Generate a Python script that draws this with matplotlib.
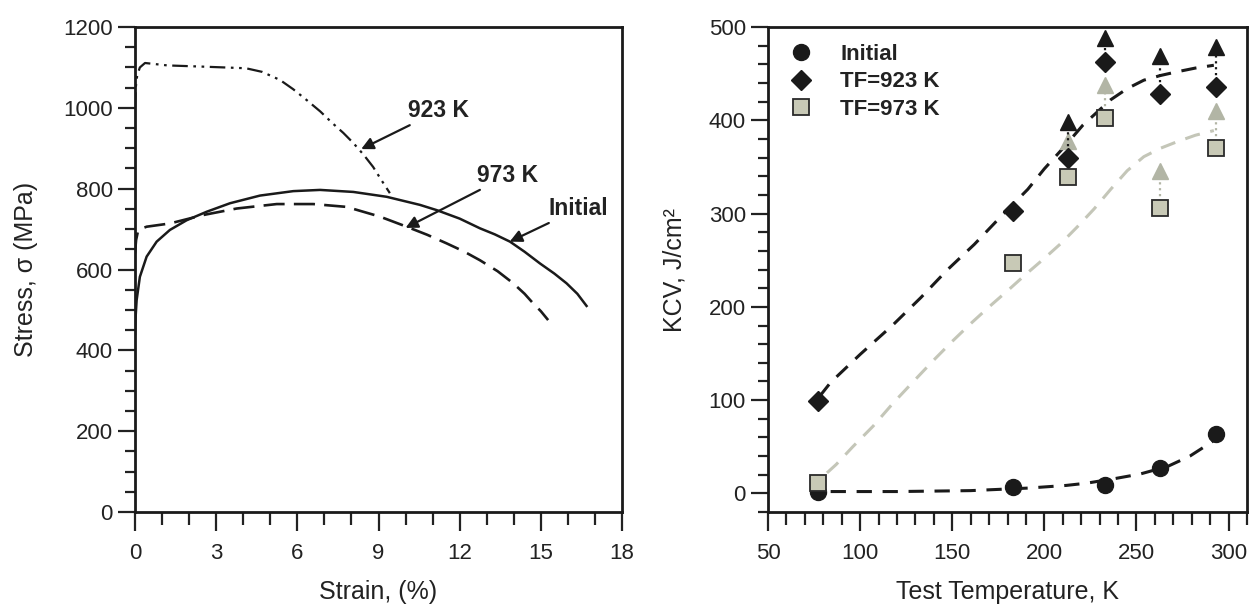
import matplotlib
matplotlib.use('Agg')
from matplotlib import pyplot as plt
from matplotlib.ticker import MultipleLocator

plt.rcParams['font.family'] = ['Liberation Sans', 'DejaVu Sans']
plt.rcParams['text.color'] = '#222222'
plt.rcParams['axes.labelcolor'] = '#222222'
plt.rcParams['xtick.color'] = '#222222'
plt.rcParams['ytick.color'] = '#222222'

# ---- left panel: stress-strain curves ----
strain_initial = [0.0, 0.02, 0.06, 0.18, 0.43, 0.80, 1.29, 1.91, 2.65, 3.51, 4.62, 5.85, 6.84,
                  8.07, 9.3, 10.53, 11.15, 12.0, 12.75, 13.3, 13.86, 14.4, 14.97, 15.5, 15.95, 16.35, 16.69]
stress_initial = [440, 480, 524, 582, 632, 669, 698, 722, 743, 764, 783, 794, 797,
                  792, 780, 760, 747, 726, 702, 687, 669, 644, 615, 590, 566, 540, 510]

strain_973 = [0.0, 0.04, 0.12, 0.43, 1.29, 2.53, 3.76, 5.24, 6.59, 7.82, 9.05, 10.04,
              10.8, 11.51, 12.15, 12.75, 13.4, 13.98, 14.4, 14.72, 15.0, 15.27]
stress_973 = [640, 673, 698, 706, 714, 735, 751, 762, 762, 755, 731, 706,
              686, 665, 645, 623, 596, 566, 540, 516, 497, 475]

strain_923 = [0.0, 0.03, 0.08, 0.18, 0.37, 1.2, 2.5, 4.1, 4.7, 5.36, 5.85, 6.35,
              6.85, 7.3, 7.7, 8.07, 8.45, 8.8, 9.1, 9.42]
stress_923 = [1000, 1051, 1080, 1100, 1111, 1105, 1102, 1098, 1089, 1069, 1046, 1019,
              991, 962, 938, 913, 884, 854, 822, 789]

# ---- right panel: impact toughness ----
temp_initial = [77, 183, 233, 263, 293]
kcv_initial = [2, 7, 9, 27, 64]
temp_tf = [77, 183, 213, 233, 263, 293]
kcv_923 = [99, 303, 360, 463, 428, 436]
kcv_973 = [11, 247, 339, 402, 306, 370]

# open-ended results: arrow from measured value up to arrow head
arrow_temp = [213, 233, 263, 293]
arrow_923_from = [360, 463, 428, 436]
arrow_923_head = [398, 488, 469, 479]
arrow_973_from = [339, 402, 306, 370]
arrow_973_head = [378, 438, 346, 410]

# dashed trend curves
fit_temp_923 = [78, 84, 100, 118, 133, 147, 162, 176, 191, 200, 211, 221, 236, 245, 254, 263, 272, 282, 292]
fit_kcv_923 = [104, 119, 149, 181, 210, 239, 267, 296, 326, 348, 372, 395, 422, 434, 443, 448, 452, 456, 459]
fit_temp_973 = [82, 87, 96, 107, 118, 128, 139, 150, 160, 170, 181, 190, 200, 209, 218, 227,
                236, 245, 254, 263, 272, 282, 292]
fit_kcv_973 = [22, 31, 50, 72, 97, 118, 141, 163, 182, 200, 219, 235, 252, 268, 286, 305,
               326, 346, 361, 370, 377, 384, 389]
fit_temp_ini = [84, 120, 160, 191, 212, 223, 238, 252, 267, 279, 290, 293]
fit_kcv_ini = [2, 2, 3, 5.7, 8.6, 11, 15.8, 20.8, 29, 40, 54, 58]

gray_face = '#c8c9b6'
gray_line = '#c4c6b8'
gray_arrow = '#b2b5a5'
ink = '#1a1a1a'


def style_axes(ax):
    for s in ax.spines.values():
        s.set_linewidth(2.0)
        s.set_color(ink)
    ax.tick_params(which='major', direction='out', length=12, width=1.6, labelsize=16, pad=4)
    ax.tick_params(which='minor', direction='out', length=7.5, width=1.6)
    ax.tick_params(axis='x', which='major', length=14, pad=8)
    ax.tick_params(axis='x', which='minor', length=9)
    ax.tick_params(top=False, right=False, which='both')


fig = plt.figure(figsize=(12.5, 6.14), dpi=100)
ax1 = fig.add_axes([0.108, 0.166, 0.3896, 0.79])
ax2 = fig.add_axes([0.6144, 0.166, 0.3832, 0.79])

# left
ax1.plot(strain_initial, stress_initial, color=ink, lw=1.8)
ax1.plot(strain_973, stress_973, color=ink, lw=1.9, linestyle=(0, (8, 3.5)))
ax1.plot(strain_923, stress_923, color=ink, lw=1.6, linestyle=(0, (7, 2.5, 1.2, 2.5, 1.2, 2.5)))
ax1.set_xlim(0, 18)
ax1.set_ylim(0, 1200)
ax1.xaxis.set_major_locator(MultipleLocator(3))
ax1.xaxis.set_minor_locator(MultipleLocator(1))
ax1.yaxis.set_major_locator(MultipleLocator(200))
ax1.yaxis.set_minor_locator(MultipleLocator(50))
style_axes(ax1)
ax1.set_xlabel('Strain, (%)', fontsize=18, labelpad=12)
ax1.set_ylabel('Stress, σ (MPa)', fontsize=18, labelpad=18)

arrow_kw = dict(arrowstyle='-|>', color=ink, lw=1.6, mutation_scale=18, shrinkA=0, shrinkB=0)
ax1.annotate('923 K', xy=(8.36, 898), xytext=(10.1, 964), fontsize=16.5, fontweight='bold',
             ha='left', va='bottom', arrowprops=arrow_kw)
ax1.annotate('973 K', xy=(10.0, 703), xytext=(12.65, 804), fontsize=16.5, fontweight='bold',
             ha='left', va='bottom', arrowprops=arrow_kw)
ax1.annotate('Initial', xy=(13.85, 669), xytext=(15.3, 722), fontsize=16.5, fontweight='bold',
             ha='left', va='bottom', arrowprops=arrow_kw)

# right
dash = (0, (5, 3.5))
ax2.plot(fit_temp_923, fit_kcv_923, color=ink, lw=2.2, linestyle=dash, zorder=2)
ax2.plot(fit_temp_973, fit_kcv_973, color=gray_line, lw=2.2, linestyle=dash, zorder=2)
ax2.plot(fit_temp_ini, fit_kcv_ini, color=ink, lw=2.2, linestyle=dash, zorder=2)

ax2.vlines(arrow_temp, arrow_973_from, arrow_973_head, colors=gray_arrow, lw=1.6, linestyles=':', zorder=3)
ax2.plot(arrow_temp, arrow_973_head, linestyle='none', marker='^', ms=11, color=gray_arrow, zorder=3)
ax2.vlines(arrow_temp, arrow_923_from, arrow_923_head, colors=ink, lw=1.6, linestyles=':', zorder=3)
ax2.plot(arrow_temp, arrow_923_head, linestyle='none', marker='^', ms=11, color=ink, zorder=3)

ax2.plot(temp_initial, kcv_initial, linestyle='none', marker='o', ms=11.5, color=ink,
         label='Initial', zorder=4)
ax2.plot(temp_tf, kcv_923, linestyle='none', marker='D', ms=10, color=ink,
         label='TF=923 K', zorder=4)
ax2.plot(temp_tf, kcv_973, linestyle='none', marker='s', ms=11, markerfacecolor=gray_face,
         markeredgecolor='#2a2a2a', markeredgewidth=1.3, label='TF=973 K', zorder=5)

ax2.set_xlim(50, 310)
ax2.set_ylim(-20, 500)
ax2.xaxis.set_major_locator(MultipleLocator(50))
ax2.xaxis.set_minor_locator(MultipleLocator(10))
ax2.yaxis.set_major_locator(MultipleLocator(100))
ax2.yaxis.set_minor_locator(MultipleLocator(20))
style_axes(ax2)
ax2.set_xlabel('Test Temperature, K', fontsize=18, labelpad=12)
ax2.set_ylabel('KCV, J/cm²', fontsize=18, labelpad=16)

leg = ax2.legend(loc='upper left', frameon=False, fontsize=16, handletextpad=1.0,
                 borderaxespad=0.35, borderpad=0.4, labelspacing=0.3, handlelength=1.5)
for t in leg.get_texts():
    t.set_fontweight('bold')

fig.savefig('out.png', dpi=100, facecolor='white')
